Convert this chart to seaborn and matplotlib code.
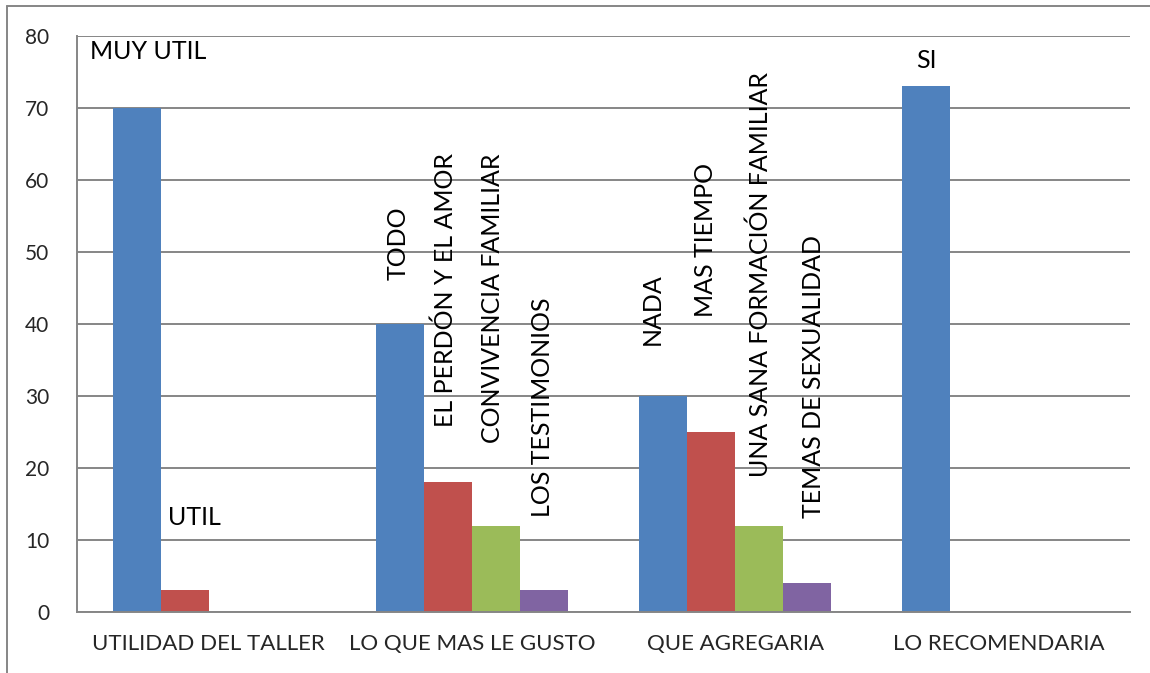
import matplotlib
matplotlib.use("Agg")
import matplotlib.pyplot as plt
from matplotlib.lines import Line2D
import seaborn as sns
import pandas as pd

categories = ["UTILIDAD DEL TALLER", "LO QUE MAS LE GUSTO", "QUE AGREGARIA", "LO RECOMENDARIA"]
series_names = ["Serie1", "Serie2", "Serie3", "Serie4"]
serie1 = [70, 40, 30, 73]
serie2 = [3, 18, 25, 0]
serie3 = [0, 12, 12, 0]
serie4 = [0, 3, 4, 0]

# text written over the bars (series, category)
labels_serie1 = ["MUY UTIL", "TODO", "NADA", "SI"]
labels_serie2 = ["UTIL", "EL PERDÓN Y EL AMOR", "MAS TIEMPO", ""]
labels_serie3 = ["", "CONVIVENCIA FAMILIAR", "UNA SANA FORMACIÓN FAMILIAR", ""]
labels_serie4 = ["", "LOS TESTIMONIOS", "TEMAS DE SEXUALIDAD", ""]

colors = ["#4F81BD", "#C0504D", "#9BBB59", "#8064A2"]

rows = []
for name, vals in zip(series_names, [serie1, serie2, serie3, serie4]):
    for cat, v in zip(categories, vals):
        rows.append({"categoria": cat, "serie": name, "valor": v})
df = pd.DataFrame(rows)

sns.set_style("white")
plt.rcParams["font.family"] = ["Lato", "DejaVu Sans"]

fig = plt.figure(figsize=(11.5, 6.73), dpi=100)
ax = fig.add_axes([77 / 1150, 1 - 612 / 673, (1130 - 77) / 1150, (612 - 36) / 673])

sns.barplot(data=df, x="categoria", y="valor", hue="serie", order=categories,
            hue_order=series_names, palette=colors, width=0.73, gap=0,
            saturation=1, legend=False, ax=ax, linewidth=0)

ax.set_ylim(0, 80)
ax.set_xlim(-0.5, 3.5)
ax.set_yticks(range(0, 81, 10))
ax.yaxis.grid(True, color="#868686", linewidth=1.4)
ax.set_axisbelow(True)
ax.set_xlabel("")
ax.set_ylabel("")
for side in ["top", "right"]:
    ax.spines[side].set_visible(False)
for side in ["left", "bottom"]:
    ax.spines[side].set_color("#868686")
    ax.spines[side].set_linewidth(1.4)

ax.set_xticks(range(len(categories)))
ax.set_xticklabels(categories, fontsize=16)
ax.set_xticks([i - 0.5 for i in range(len(categories) + 1)], minor=True)
ax.tick_params(axis="x", which="major", length=0, pad=16)
ax.tick_params(axis="x", which="minor", length=8, width=1.4, color="#868686", direction="out")
ax.tick_params(axis="y", length=9, width=1.4, color="#868686", direction="out", labelsize=15, pad=11)

# label layout: (dx from bar centre, y in data units, rotation, ha, va)
layout = {
    (0, 0): (-0.177, 76.8, 0, "left", "baseline"),
    (1, 0): (-0.063, 12.1, 0, "left", "baseline"),
    (0, 3): (0.0, 75.6, 0, "center", "baseline"),
    (0, 1): (-0.006, 46.1, 90, "center", "bottom"),
    (1, 1): (-0.010, 25.7, 90, "center", "bottom"),
    (2, 1): (-0.013, 23.5, 90, "center", "bottom"),
    (3, 1): (-0.006, 13.2, 90, "center", "bottom"),
    (0, 2): (-0.040, 37.1, 90, "center", "bottom"),
    (1, 2): (-0.021, 41.0, 90, "center", "bottom"),
    (2, 2): (0.006, 18.75, 90, "center", "bottom"),
    (3, 2): (0.024, 13.1, 90, "center", "bottom"),
}
all_labels = [labels_serie1, labels_serie2, labels_serie3, labels_serie4]
for s, labs in enumerate(all_labels):
    for c, txt in enumerate(labs):
        if not txt:
            continue
        bar = ax.containers[s][c]
        xc = bar.get_x() + bar.get_width() / 2
        dx, y, rot, ha, va = layout[(s, c)]
        ax.text(xc + dx, y, txt, rotation=rot, ha=ha, va=va, fontsize=18, color="black")

# outer chart border (left and top edges visible)
fig.add_artist(Line2D([7 / 1150, 7 / 1150], [0, 1 - 6 / 673], color="#868686", linewidth=1.4))
fig.add_artist(Line2D([7 / 1150, 1], [1 - 6 / 673, 1 - 6 / 673], color="#868686", linewidth=1.4))

fig.savefig("out.png", dpi=100, facecolor="white")
